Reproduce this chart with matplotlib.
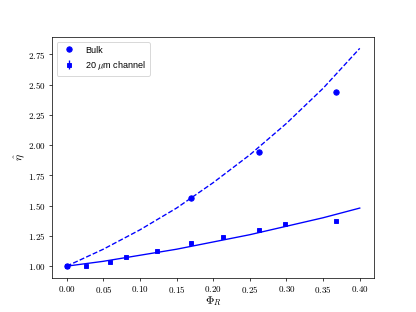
import matplotlib
matplotlib.use("Agg")
import matplotlib.pyplot as plt
from matplotlib.ticker import FuncFormatter

plt.rcParams.update({"mathtext.fontset": "cm",
                     "font.family": ["Liberation Sans", "DejaVu Sans"]})

# bulk measurements
phi_bulk = [0.0, 0.170, 0.263, 0.368]
eta_bulk = [1.00, 1.56, 1.94, 2.44]

# 20 um channel measurements
phi_chan = [0.0, 0.026, 0.059, 0.081, 0.123, 0.170, 0.213, 0.262, 0.298, 0.368]
eta_chan = [1.00, 1.005, 1.033, 1.079, 1.126, 1.19, 1.239, 1.297, 1.347, 1.371]
err_chan = [0.005, 0.005, 0.005, 0.005, 0.005, 0.005, 0.005, 0.005, 0.005, 0.005]

# model curves
phi_fit = [0.0, 0.05, 0.10, 0.15, 0.20, 0.25, 0.30, 0.35, 0.40]
eta_fit_bulk = [1.00, 1.14, 1.30, 1.48, 1.69, 1.92, 2.18, 2.47, 2.80]
eta_fit_chan = [1.00, 1.04, 1.09, 1.14, 1.20, 1.26, 1.33, 1.40, 1.48]

fig, ax = plt.subplots(figsize=(6.4, 4.8), dpi=65)
ax.plot(phi_bulk, eta_bulk, "bo", label="Bulk")
ax.errorbar(phi_chan, eta_chan, yerr=err_chan, fmt="bs", markersize=5,
            label=r"20 $\mu$m channel")
ax.plot(phi_fit, eta_fit_bulk, "b--", linewidth=1.5)
ax.plot(phi_fit, eta_fit_chan, "b-", linewidth=1.5)

fmt = FuncFormatter(lambda v, p: f"${v:.2f}$")
ax.xaxis.set_major_formatter(fmt)
ax.yaxis.set_major_formatter(fmt)
ax.set_xlabel(r"$\Phi_R$", fontsize=13, labelpad=-1)
ax.set_ylabel(r"$\hat{\eta}$", fontsize=13, labelpad=1)
ax.legend(loc="upper left")

fig.savefig("out.png", dpi=65)
